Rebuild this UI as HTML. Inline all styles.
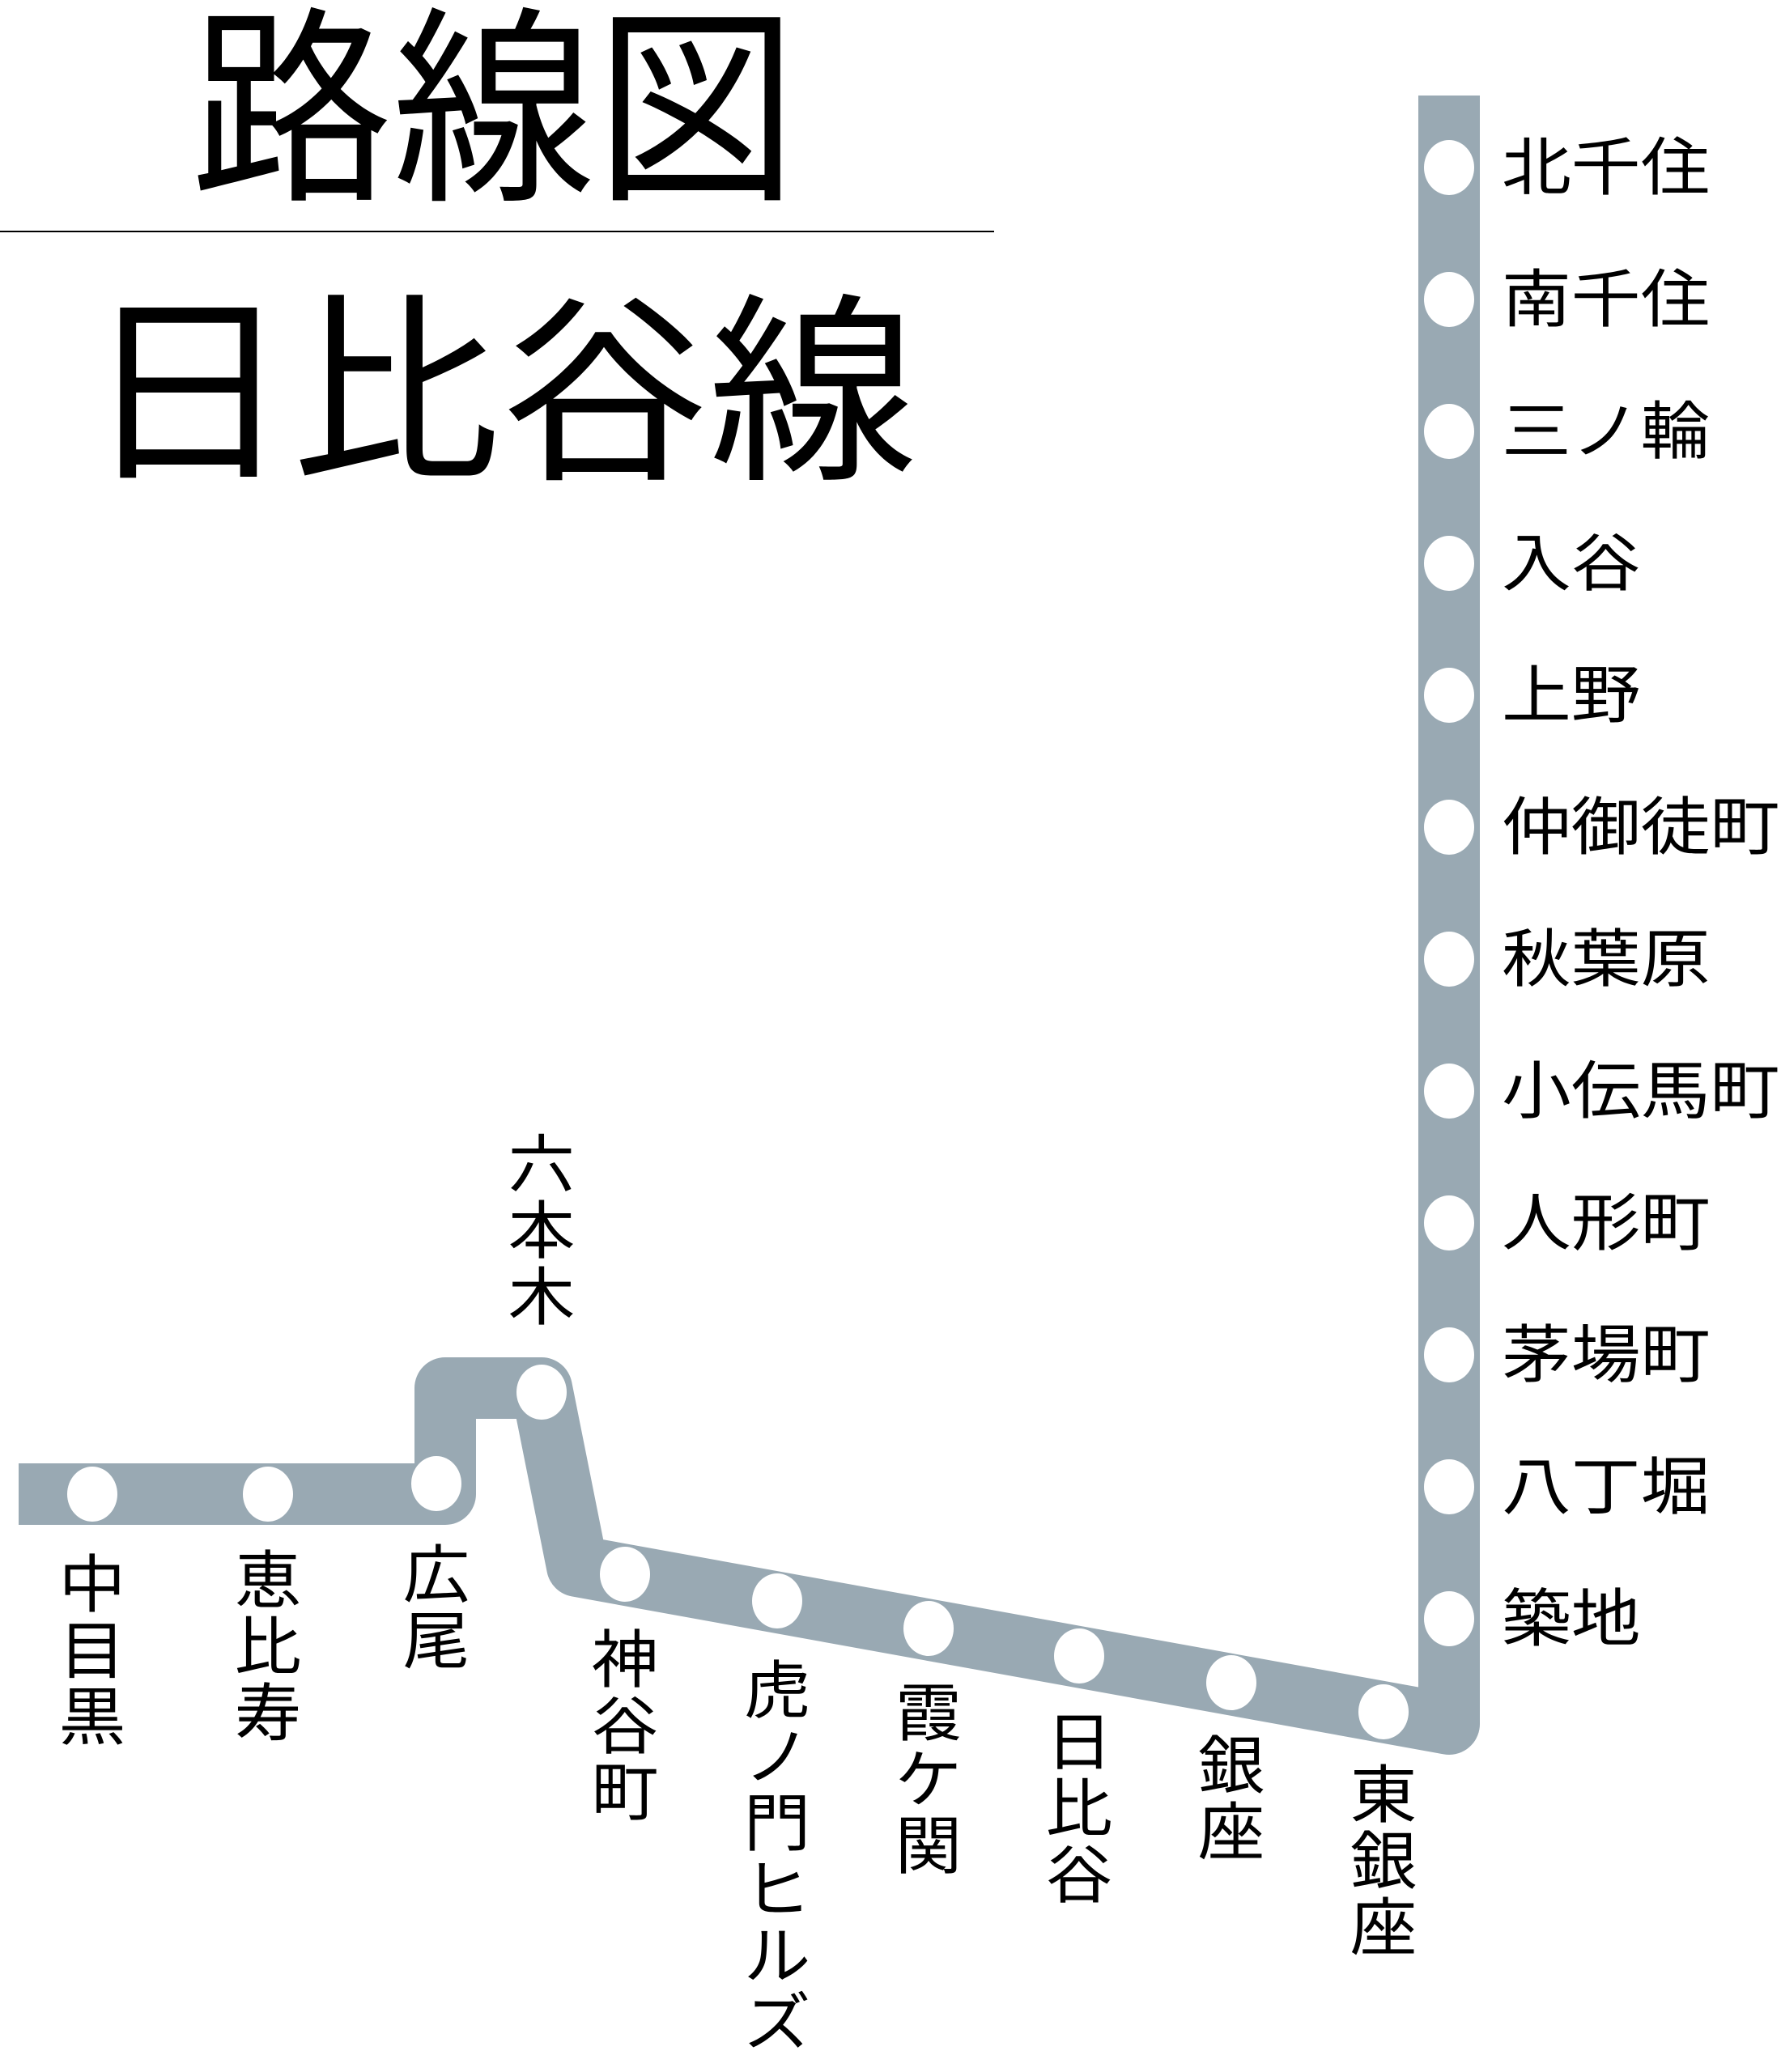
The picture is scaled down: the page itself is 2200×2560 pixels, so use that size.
<!DOCTYPE html>
<html><head><meta charset="utf-8"><style>
body{margin:0;background:#fff}
#c{position:relative;width:2200px;height:2560px;overflow:hidden;font-family:"Liberation Sans","Noto Sans CJK JP",sans-serif;color:#000}
.t{position:absolute;line-height:1;white-space:nowrap}
.r{position:absolute;left:1855px;font-size:78px;line-height:78px;white-space:nowrap;transform:scaleX(1.1);transform-origin:0 0}
.v{position:absolute;font-size:78px;line-height:82px;width:100px;text-align:center;transform:scaleX(1.06)}
</style></head><body><div id="c">
<div class="t" style="left:0;width:1220px;text-align:center;top:8px;font-size:250px;transform:scaleY(1.04);transform-origin:50% 0">路線図</div>
<div style="position:absolute;left:0;top:285px;width:1228px;height:2px;background:#000"></div>
<div class="t" style="left:-15px;width:1266px;text-align:center;top:362px;font-size:250px;transform:scale(1.03,1.0);transform-origin:50% 0">日比谷線</div>
<svg width="2200" height="2560" style="position:absolute;left:0;top:0">
<path d="M23,1846 L550,1846 L550,1715 L669,1715 L713,1935 L1790,2130 L1790,118" fill="none" stroke="#99a9b3" stroke-width="76" stroke-linejoin="round"/>
<g fill="#fff">
<ellipse cx="1790" cy="207" rx="31" ry="34"/><ellipse cx="1790" cy="370" rx="31" ry="34"/><ellipse cx="1790" cy="533" rx="31" ry="34"/><ellipse cx="1790" cy="696" rx="31" ry="34"/><ellipse cx="1790" cy="859" rx="31" ry="34"/><ellipse cx="1790" cy="1022" rx="31" ry="34"/><ellipse cx="1790" cy="1185" rx="31" ry="34"/><ellipse cx="1790" cy="1348" rx="31" ry="34"/><ellipse cx="1790" cy="1511" rx="31" ry="34"/><ellipse cx="1790" cy="1674" rx="31" ry="34"/><ellipse cx="1790" cy="1837" rx="31" ry="34"/><ellipse cx="1790" cy="2000" rx="31" ry="34"/>
<ellipse cx="1709" cy="2115" rx="31" ry="34"/><ellipse cx="1521" cy="2079" rx="31" ry="34"/><ellipse cx="1333" cy="2046" rx="31" ry="34"/><ellipse cx="1147" cy="2012" rx="31" ry="34"/><ellipse cx="960" cy="1978" rx="31" ry="34"/><ellipse cx="772" cy="1945" rx="31" ry="34"/><ellipse cx="669" cy="1720" rx="31" ry="34"/><ellipse cx="539" cy="1833" rx="31" ry="34"/><ellipse cx="331" cy="1846" rx="31" ry="34"/><ellipse cx="114" cy="1846" rx="31" ry="34"/>
</g></svg>
<div class="r" style="top:168px">北千住</div><div class="r" style="top:331px">南千住</div><div class="r" style="top:494px">三ノ輪</div><div class="r" style="top:657px">入谷</div><div class="r" style="top:820px">上野</div><div class="r" style="top:983px">仲御徒町</div><div class="r" style="top:1146px">秋葉原</div><div class="r" style="top:1309px">小伝馬町</div><div class="r" style="top:1472px">人形町</div><div class="r" style="top:1635px">茅場町</div><div class="r" style="top:1798px">八丁堀</div><div class="r" style="top:1961px">築地</div>
<div class="v" style="left:619px;top:1398px">六<br>本<br>木</div>
<div class="v" style="left:64px;top:1917px">中<br>目<br>黒</div>
<div class="v" style="left:281px;top:1912px">恵<br>比<br>寿</div>
<div class="v" style="left:489px;top:1905px">広<br>尾</div>
<div class="v" style="left:722px;top:2010px">神<br>谷<br>町</div>
<div class="v" style="left:910px;top:2048px">虎<br>ノ<br>門<br>ヒ<br>ル<br>ズ</div>
<div class="v" style="left:1097px;top:2076px">霞<br>ケ<br>関</div>
<div class="v" style="left:1283px;top:2112px">日<br>比<br>谷</div>
<div class="v" style="left:1471px;top:2141px">銀<br>座</div>
<div class="v" style="left:1659px;top:2177px">東<br>銀<br>座</div>
</div></body></html>
